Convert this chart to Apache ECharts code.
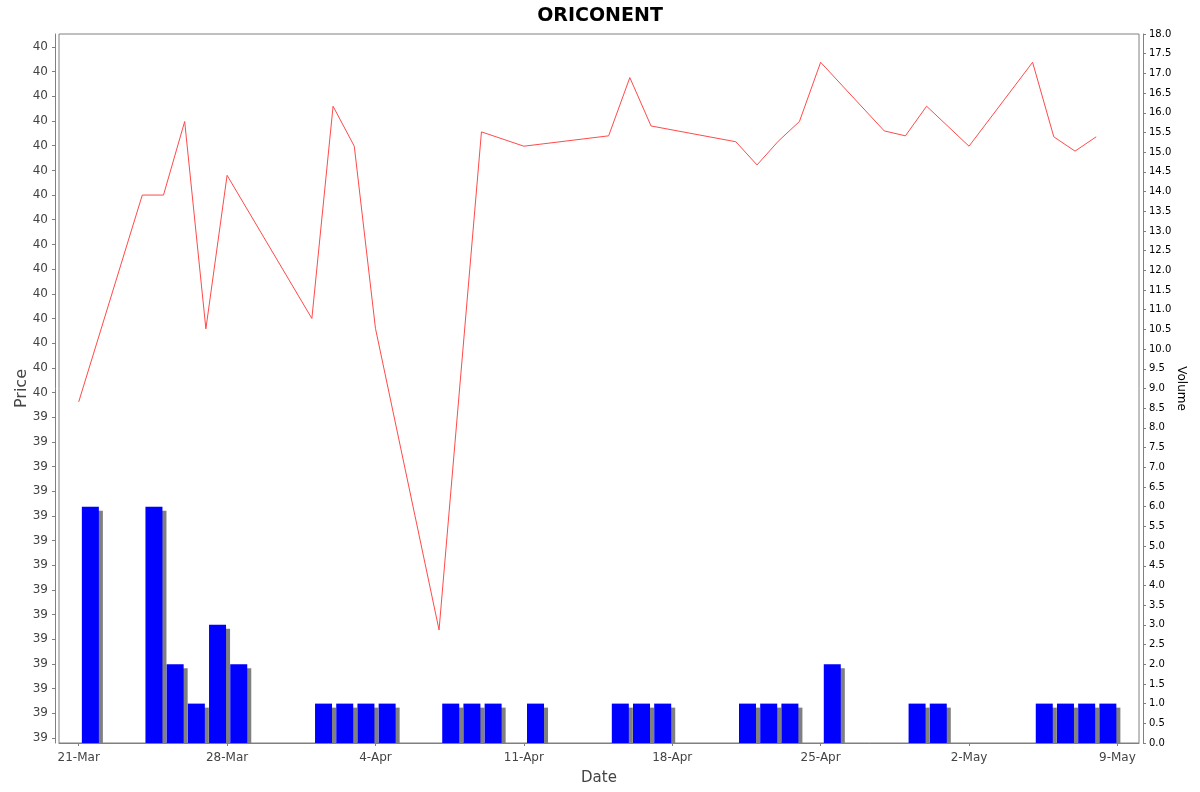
<!DOCTYPE html>
<html>
<head>
<meta charset="utf-8">
<script src="https://cdn.jsdelivr.net/npm/echarts@6/dist/echarts.min.js"></script>
<style>
html,body{margin:0;padding:0;background:#fff;}
#c{width:1200px;height:792px;}
</style>
</head>
<body>
<div id="c"></div>
<script>
// ---- data ----
const priceDates = ['2025-03-21','2025-03-24','2025-03-25','2025-03-26','2025-03-27','2025-03-28',
  '2025-04-01','2025-04-02','2025-04-03','2025-04-04','2025-04-07','2025-04-09','2025-04-11',
  '2025-04-15','2025-04-16','2025-04-17','2025-04-21','2025-04-22','2025-04-23','2025-04-24',
  '2025-04-25','2025-04-28','2025-04-29','2025-04-30','2025-05-02','2025-05-05','2025-05-06',
  '2025-05-07','2025-05-08'];
const prices = [39.481,39.900,39.900,40.049,39.629,39.940,
  39.650,40.080,39.999,39.630,39.019,40.028,39.999,
  40.020,40.138,40.040,40.008,39.961,40.009,40.049,
  40.169,40.030,40.020,40.080,39.999,40.169,40.018,
  39.989,40.018];

const volumeDates = ['2025-03-21','2025-03-24','2025-03-25','2025-03-26','2025-03-27','2025-03-28',
  '2025-04-01','2025-04-02','2025-04-03','2025-04-04','2025-04-07','2025-04-08','2025-04-09',
  '2025-04-11','2025-04-15','2025-04-16','2025-04-17','2025-04-21','2025-04-22','2025-04-23',
  '2025-04-25','2025-04-29','2025-04-30','2025-05-05','2025-05-06','2025-05-07','2025-05-08'];
const volumes = [6,6,2,1,3,2,
  1,1,1,1,1,1,1,
  1,1,1,1,1,1,1,
  2,1,1,1,1,1,1];

const priceTicks = [38.80,38.85,38.90,38.95,39.00,39.05,39.10,39.15,39.20,39.25,39.30,39.35,39.40,39.45,
  39.50,39.55,39.60,39.65,39.70,39.75,39.80,39.85,39.90,39.95,40.00,40.05,40.10,40.15,40.20];

const dateTicks = ['2025-03-21','2025-03-28','2025-04-04','2025-04-11','2025-04-18','2025-04-25','2025-05-02','2025-05-09'];
const dateTickLabels = ['21-Mar','28-Mar','4-Apr','11-Apr','18-Apr','25-Apr','2-May','9-May'];

// ---- helpers ----
const DAY = 86400000;
function ts(s){ const p = s.split('-').map(Number); return Date.UTC(p[0], p[1]-1, p[2]); }
const dateTickTs = dateTicks.map(ts);

const xMin = ts('2025-03-21') - 0.929 * DAY;
const xMax = ts('2025-05-09') + 1.019 * DAY;
const barShift = 0.55 * DAY;     // bars occupy the trading day, right of the date tick
const shadowDx = 0.19 * DAY;     // ~4px shadow offset to the right
const volMax = 18;
const shadowDy = 0.1016;         // ~4px shadow offset downwards (volume units)

const priceMin = 38.7899, priceMax = 40.2263;

const chart = echarts.init(document.getElementById('c'), null, {renderer: 'canvas'});
chart.setOption({
  backgroundColor: '#ffffff',
  animation: false,
  title: {
    text: 'ORICONENT',
    left: 'center',
    top: 2,
    textStyle: {fontFamily: 'DejaVu Sans', fontSize: 19, fontWeight: 'bold', color: '#000'}
  },
  grid: {
    left: 59, right: 61, top: 34, bottom: 49,
    show: true, borderColor: '#808080', borderWidth: 1, backgroundColor: '#ffffff'
  },
  xAxis: [
    {
      type: 'value',
      min: xMin, max: xMax,
      position: 'bottom',
      offset: 4,
      name: 'Date',
      nameLocation: 'middle',
      nameGap: 24,
      nameMoveOverlap: false,
      nameTextStyle: {fontFamily: 'DejaVu Sans', fontSize: 15, color: '#444'},
      axisLine: {show: true, lineStyle: {color: '#808080', width: 1}},
      axisTick: {show: true, length: 3, lineStyle: {color: '#808080'}, customValues: dateTickTs},
      axisLabel: {
        customValues: dateTickTs,
        fontFamily: 'DejaVu Sans', fontSize: 12, color: '#444', margin: 5,
        formatter: function (v) {
          const i = dateTickTs.indexOf(v);
          return i >= 0 ? dateTickLabels[i] : '';
        }
      },
      splitLine: {show: false}
    },
    {
      type: 'value',
      min: xMin - barShift, max: xMax - barShift,
      show: false,
      splitLine: {show: false}
    },
    {
      type: 'value',
      min: xMin - barShift - shadowDx, max: xMax - barShift - shadowDx,
      show: false,
      splitLine: {show: false}
    }
  ],
  yAxis: [
    {
      type: 'value',
      min: priceMin, max: priceMax,
      position: 'left',
      offset: 4,
      name: 'Price',
      nameLocation: 'middle',
      nameGap: 25,
      nameMoveOverlap: false,
      nameTextStyle: {fontFamily: 'DejaVu Sans', fontSize: 16, color: '#444'},
      axisLine: {show: true, lineStyle: {color: '#808080', width: 1}},
      axisTick: {show: true, length: 3, lineStyle: {color: '#808080'}, customValues: priceTicks},
      axisLabel: {
        customValues: priceTicks,
        fontFamily: 'DejaVu Sans', fontSize: 12, color: '#444', margin: 7,
        formatter: function (v) { return String(Math.round(v)); }
      },
      splitLine: {show: false}
    },
    {
      type: 'value',
      min: 0, max: volMax, interval: 0.5,
      position: 'right',
      offset: 4,
      name: 'Volume',
      nameLocation: 'middle',
      nameGap: 32,
      nameRotate: -90,
      nameMoveOverlap: false,
      nameTextStyle: {fontFamily: 'DejaVu Sans', fontSize: 12, color: '#000'},
      axisLine: {show: true, lineStyle: {color: '#808080', width: 1}},
      axisTick: {show: true, length: 3, lineStyle: {color: '#808080'}},
      axisLabel: {
        fontFamily: 'DejaVu Sans', fontSize: 10, color: '#000', margin: 6,
        formatter: function (v) { return v.toFixed(1); }
      },
      splitLine: {show: false}
    },
    {
      type: 'value',
      min: shadowDy, max: volMax + shadowDy,
      show: false,
      splitLine: {show: false}
    }
  ],
  series: [
    {
      type: 'bar',
      name: 'VolumeShadow',
      xAxisIndex: 2,
      yAxisIndex: 2,
      barWidth: 17,
      clip: true,
      silent: true,
      data: volumeDates.map((d, i) => [ts(d), volumes[i]]),
      itemStyle: {color: '#808080'}
    },
    {
      type: 'bar',
      name: 'Volume',
      xAxisIndex: 1,
      yAxisIndex: 1,
      barWidth: 17,
      clip: true,
      data: volumeDates.map((d, i) => [ts(d), volumes[i]]),
      itemStyle: {color: '#0000ff'}
    },
    {
      type: 'line',
      name: 'Price',
      xAxisIndex: 0,
      yAxisIndex: 0,
      showSymbol: false,
      symbol: 'none',
      lineStyle: {color: '#ff4a4a', width: 1},
      data: priceDates.map((d, i) => [ts(d), prices[i]])
    }
  ]
});
</script>
</body>
</html>
